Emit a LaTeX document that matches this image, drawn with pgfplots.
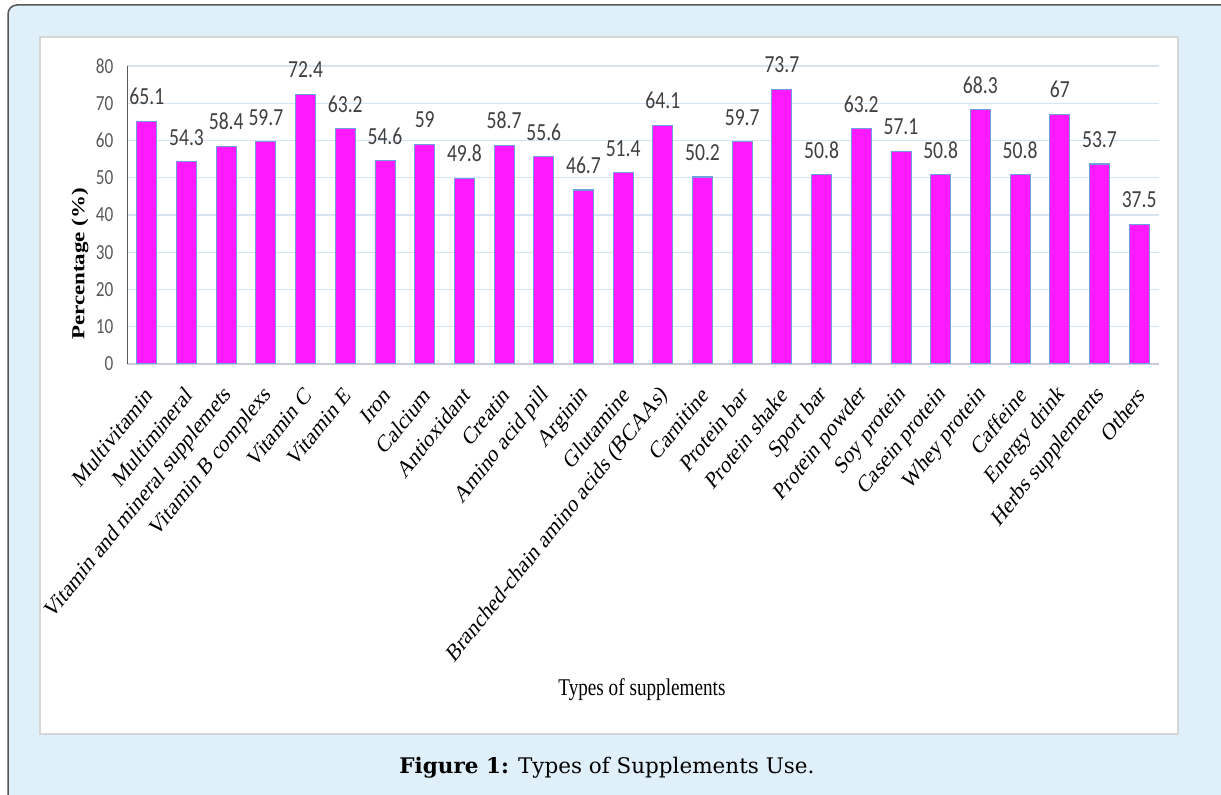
\documentclass[border=0pt]{standalone}
\usepackage{pgfplots}
\usepackage{pgfplotstable}
\pgfplotsset{compat=1.18}
\usepackage{fontspec}
\setmainfont{Liberation Serif}
\newfontfamily\carlito{Carlito}
\newfontfamily\capfont{DejaVu Serif}
\definecolor{panelbg}{RGB}{224,240,250}
\definecolor{panelborder}{RGB}{85,85,85}
\definecolor{boxborder}{RGB}{214,214,214}
\definecolor{barfill}{RGB}{255,26,255}
\definecolor{baredge}{RGB}{110,160,220}
\definecolor{gridc}{RGB}{214,228,242}
\definecolor{axisgray}{RGB}{200,205,212}
\definecolor{ticktext}{RGB}{89,89,89}
\definecolor{labtext}{RGB}{64,64,64}

\pgfplotstableread{
x v
0 65.1
1 54.3
2 58.4
3 59.7
4 72.4
5 63.2
6 54.6
7 59
8 49.8
9 58.7
10 55.6
11 46.7
12 51.4
13 64.1
14 50.2
15 59.7
16 73.7
17 50.8
18 63.2
19 57.1
20 50.8
21 68.3
22 50.8
23 67
24 53.7
25 37.5
}\datatable

\begin{document}
\begin{tikzpicture}[x=1pt,y=1pt]
\useasboundingbox (0,0) rectangle (1221,795);
\clip (0,0) rectangle (1221,795);
\fill[white] (0,0) rectangle (1221,795);
\draw[panelborder, line width=1.5pt, fill=panelbg, rounded corners=9pt] (8,-20) rectangle (1240,790);
\draw[boxborder, line width=2pt, fill=white] (40,61) rectangle (1178,758);
\node[font=\capfont\fontsize{21.5}{24}\selectfont, inner sep=0pt] at (607,27) {\textbf{Figure 1:} Types of Supplements Use.};
\begin{scope}[transform canvas={xscale=0.8}]
\begin{axis}[
  at={(158.75pt,431pt)}, anchor=south west,
  scale only axis, width=1290pt, height=298pt,
  xmin=-0.5, xmax=25.5, ymin=0, ymax=80,
  ytick={0,10,...,80},
  xtick={0,...,25},
  xticklabels={Multivitamin,Multimineral,Vitamin and mineral supplemets,Vitamin B complexs,Vitamin C,Vitamin E,Iron,Calcium,Antioxidant,Creatin,Amino acid pill,Arginin,Glutamine,Branched-chain amino acids (BCAAs),Carnitine,Protein bar,Protein shake,Sport bar,Protein powder,Soy protein,Casein protein,Whey protein,Caffeine,Energy drink,Herbs supplements,Others},
  /pgf/number format/assume math mode=true,
  axis x line*=bottom, axis y line*=left,
  x axis line style={draw=axisgray, line width=1.2pt, -},
  y axis line style={draw=ticktext, line width=1.2pt, -},
  major tick length=0pt,
  ymajorgrids, grid style={draw=gridc, line width=1.3pt},
  yticklabel style={font=\carlito\fontsize{21.5}{23}\selectfont, text=ticktext, inner sep=0pt, anchor=east, xshift=-17pt},
  xticklabel style={font=\fontsize{24.5}{27}\selectfont, text=black, inner sep=0pt, yshift=-27pt, xshift=3pt, rotate=45, anchor=east},
  xlabel={Types of supplements},
  xlabel style={font=\fontsize{24}{26}\selectfont, at={(axis description cs:0.499,-1.094)}, anchor=center},
  ylabel={Percentage (\%)},
  ylabel style={font=\bfseries\fontsize{23}{25}\selectfont, at={(axis description cs:-0.0455,0.336)}, anchor=center, rotate=0},
  ybar, bar width=25pt,
  nodes near coords,
  every node near coord/.append style={font=\carlito\fontsize{24.5}{26}\selectfont, text=labtext, inner sep=0pt, anchor=base, yshift=16.5pt},
]
\addplot[fill=barfill, draw=baredge, line width=1.1pt] table[x=x, y=v] {\datatable};
\end{axis}
\end{scope}
\end{tikzpicture}
\end{document}
